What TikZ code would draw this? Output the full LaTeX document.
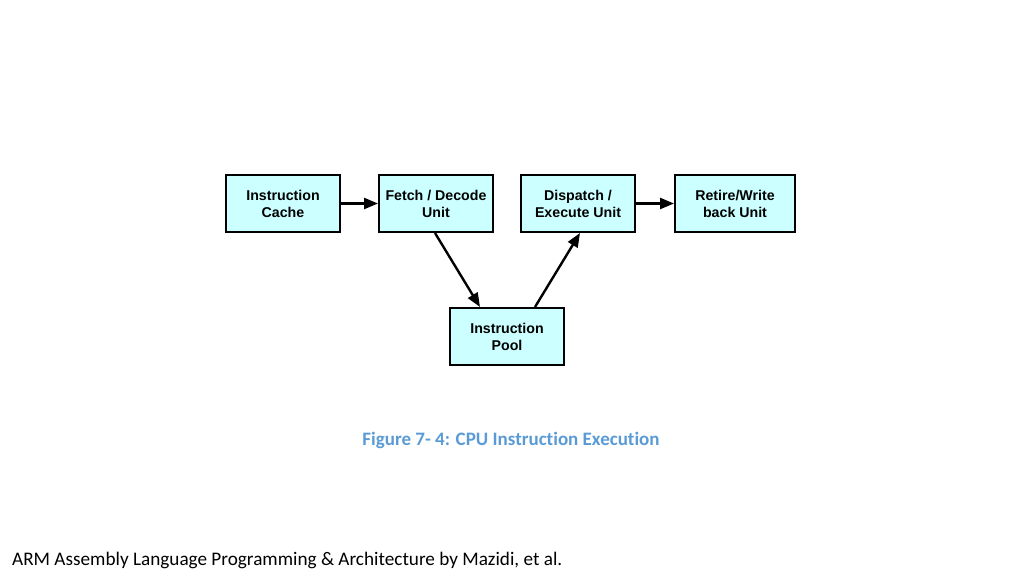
\documentclass[tikz,border=0pt]{standalone}
\usepackage{fontspec}
\setmainfont[Ligatures=NoCommon]{Carlito}
\newfontfamily\boxfont{Liberation Sans}
\usetikzlibrary{arrows.meta}
\definecolor{boxfill}{RGB}{204,255,255}
\definecolor{capblue}{RGB}{91,155,213}
\tikzset{
  unit/.style={draw=black, line width=2pt, fill=boxfill, minimum width=114pt,
    minimum height=57pt, align=center, inner sep=2pt,
    font=\boxfont\bfseries\fontsize{14.2}{17}\selectfont},
  flow/.style={line width=2.4pt, -{Triangle[length=14pt,width=11pt]}}
}
\begin{document}
\begin{tikzpicture}[x=1pt, y=-1pt]
\useasboundingbox (0,0) rectangle (1024,576);

\node[unit] (cache)    at (283, 203.5) {Instruction\\Cache};
\node[unit] (fetch)    at (436, 203.5) {Fetch / Decode\\Unit};
\node[unit] (dispatch) at (578, 203.5) {Dispatch /\\Execute Unit};
\node[unit, minimum width=120pt] (retire) at (735, 203.5) {Retire/Write\\back Unit};
\node[unit] (pool)     at (507, 336.5) {Instruction\\Pool};

\draw[flow] (cache) -- (fetch);
\draw[flow] (dispatch) -- (retire);
\draw[flow] (fetch.south) ++(-1,0) coordinate (fd) (fd) -- (pool.north -| 480,0);
\draw[flow] (pool.north -| 535,0) -- (dispatch.south -| 580,0);

%
\node[font=\bfseries\fontsize{19}{22}\selectfont, text=capblue] (caption) at (511, 440)
  {Figure 7- 4: CPU Instruction Execution};
\node[anchor=west, font=\fontsize{19.2}{23}\selectfont, inner sep=0pt] (footer) at (12, 560)
  {ARM Assembly Language Programming \& Architecture by Mazidi, et al.};
\end{tikzpicture}
\end{document}
